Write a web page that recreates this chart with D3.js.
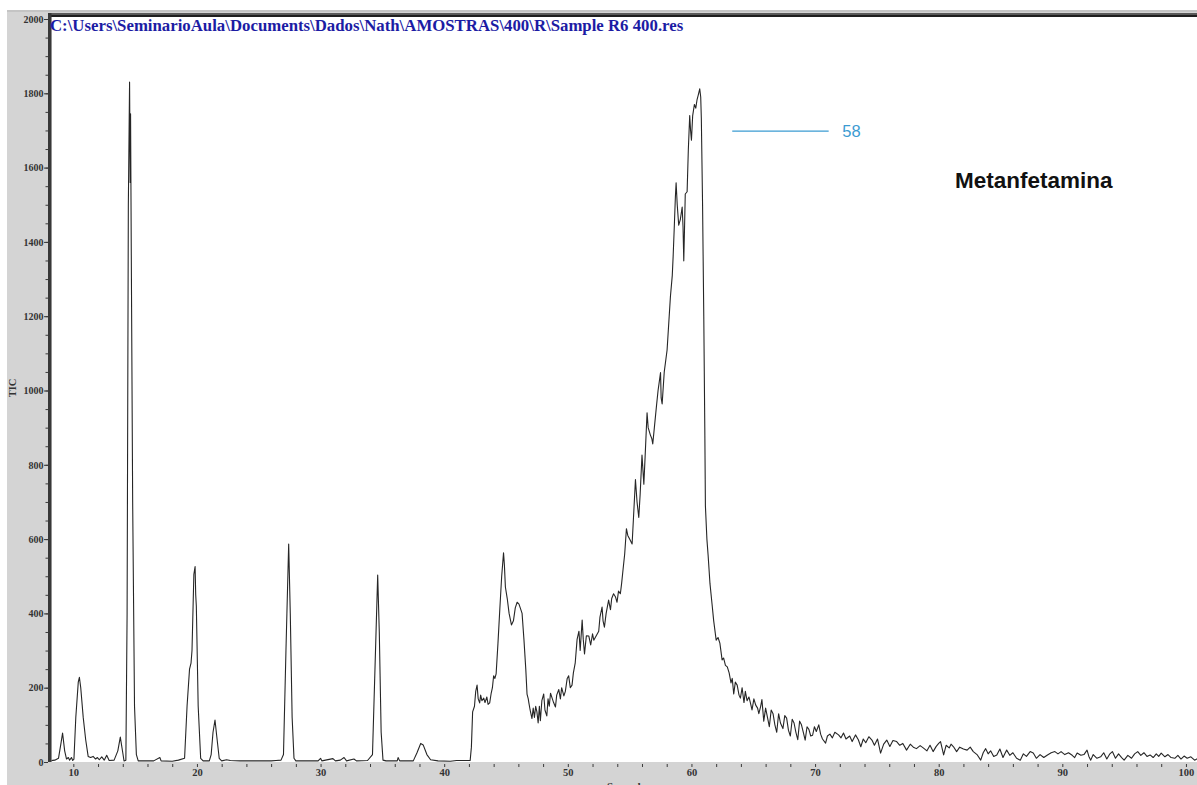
<!DOCTYPE html>
<html>
<head>
<meta charset="utf-8">
<script src="https://cdn.jsdelivr.net/npm/d3@7"></script>
<style>
  html, body { margin: 0; padding: 0; background: #fff; overflow: hidden; }
  svg { display: block; }
</style>
</head>
<body>
<svg id="chart" width="1197" height="785"></svg>
<script>
// Total ion chromatogram, sample R6 400 — [retention time (s), TIC] pairs.
const earlyPeaks = [
  [8.0,3],[8.5,5],[8.8,10],[9.0,50],[9.13,78],[9.3,30],[9.45,8],[9.6,12],[9.7,5],[9.85,12],
  [9.95,4],[10.05,8],[10.2,120],[10.4,215],[10.49,228],[10.6,200],[10.8,120],[11.0,60],[11.2,15],
  [11.4,12],[11.6,15],[11.8,8],[11.95,12],[12.1,6],[12.3,14],[12.5,5],[12.7,18],[12.9,4],
  [13.3,5],[13.6,30],[13.8,67],[14.0,25],[14.1,3],[14.25,5],[14.35,400],[14.45,1500],[14.55,1830],
  [14.6,1560],[14.63,1745],[14.7,1300],[14.8,700],[14.95,150],[15.1,20],[15.25,3],[16.5,3],
  [17.0,12],[17.1,3],[18.0,2],[18.5,5],[19.0,10],[19.2,150],[19.4,250],[19.52,266],[19.6,300],
  [19.75,505],[19.85,526],[19.9,450],[19.95,420],[20.1,150],[20.3,10],[20.5,3],[21.0,3],[21.15,20],
  [21.3,80],[21.46,113],[21.6,70],[21.8,10],[22.0,3],[22.4,6],[22.7,4],[23.5,3],[26.0,3],
  [26.4,4],[26.8,5],[27.0,20],[27.2,300],[27.42,587],[27.55,400],[27.7,120],[27.85,10],[28.0,3],
  [29.8,3],[30.0,10],[30.1,3],[31.0,9],[31.2,3],[31.6,5],[31.9,12],[32.1,3],[32.7,8],[32.9,3],
  [33.8,4],[34.2,20],[34.4,250],[34.62,503],[34.75,350],[34.9,80],[35.05,5],[35.3,3],[36.2,3],
  [36.27,12],[36.4,3],[37.5,3],[37.8,25],[38.1,50],[38.3,46],[38.6,20],[38.9,6],[39.5,3],
  [40.5,2],[41.0,4],[42.1,4]
];

const broadBand = [
  [42.2,40],[42.3,135],[42.45,150],[42.55,190],[42.66,207],[42.75,170],[42.87,159],[42.95,180],
  [43.05,165],[43.2,172],[43.3,160],[43.45,175],[43.55,155],[43.68,159],[43.8,185],[43.9,200],
  [44.0,232],[44.1,225],[44.2,237],[44.35,320],[44.5,412],[44.65,500],[44.8,563],[44.87,530],
  [44.95,471],[45.1,440],[45.25,400],[45.44,369],[45.6,380],[45.75,415],[45.9,430],[46.05,425],
  [46.2,410],[46.3,400],[46.45,330],[46.6,250],[46.7,183],[46.8,170],[46.85,159],[46.95,140],
  [47.1,117],[47.2,145],[47.3,120],[47.4,150],[47.5,135],[47.6,105],[47.7,150],[47.78,111],
  [47.9,165],[48.05,183],[48.15,140],[48.3,124],[48.4,170],[48.5,150],[48.6,185],[48.73,172],
  [48.85,160],[49.0,148],[49.1,180],[49.27,195],[49.4,170],[49.5,200],[49.68,178],[49.8,190],
  [49.95,225],[50.07,232],[50.2,200],[50.34,207],[50.45,240],[50.6,267],[50.75,330],[50.9,352],
  [51.0,300],[51.16,382],[51.25,330],[51.35,291],[51.5,340],[51.7,339],[51.85,315],[52.0,345],
  [52.1,328],[52.3,340],[52.5,352],[52.6,390],[52.77,417],[52.85,380],[52.96,363],[53.1,400],
  [53.3,436],[53.45,410],[53.55,440],[53.7,453],[53.85,445],[53.98,430],[54.1,460],[54.25,453],
  [54.35,480],[54.47,519],[54.6,560],[54.74,628],[54.85,610],[55.0,600],[55.2,587],[55.3,650],
  [55.47,760],[55.6,700],[55.74,658],[55.85,720],[56.0,826],[56.15,748],[56.25,820],[56.41,940],
  [56.5,900],[56.68,880],[56.8,870],[56.87,856],[57.0,900],[57.17,958],[57.3,1000],[57.5,1048],
  [57.55,980],[57.63,964],[57.8,1050],[58.03,1109],[58.2,1200],[58.3,1253],[58.45,1310],
  [58.52,1361],[58.6,1430],[58.7,1520],[58.76,1559],[58.85,1500],[58.97,1445],[59.1,1460],
  [59.25,1494],[59.32,1440],[59.38,1349],[59.45,1450],[59.5,1529],[59.65,1535],[59.75,1650],
  [59.86,1740],[59.93,1700],[60.0,1674],[60.1,1740],[60.24,1770],[60.35,1760],[60.45,1782],
  [60.55,1795],[60.67,1812],[60.75,1790],[60.8,1733],[60.9,1500],[61.0,1192],[61.08,900],
  [61.13,689],[61.25,600],[61.35,556],[61.5,480],[61.67,424],[61.8,380],[62.0,328],[62.15,335],
  [62.3,320],[62.48,275],[62.6,280],[62.75,260],[62.9,256],[63.05,240],[63.2,213],[63.3,225],
  [63.42,183],[63.55,215],[63.7,207],[63.85,180],[63.96,172],[64.1,200],[64.25,160],[64.36,190],
  [64.5,165],[64.65,175],[64.77,159],[64.9,140],[65.05,170],[65.2,153],[65.35,145],[65.45,130]
];

const tailBaseline = [
  [65.6,150],[65.7,168],[65.85,110],[66.0,145],[66.15,120],[66.3,95],[66.45,140],[66.6,130],
  [66.75,100],[66.9,80],[67.05,130],[67.2,105],[67.4,90],[67.55,125],[67.7,118],[67.85,85],
  [68.0,70],[68.15,115],[68.3,105],[68.45,80],[68.6,60],[68.75,110],[68.9,100],[69.05,80],
  [69.2,59],[69.35,95],[69.5,88],[69.65,70],[69.8,72],[69.95,95],[70.1,82],[70.3,100],[70.45,75],
  [70.6,62],[70.85,51],[71.0,70],[71.2,75],[71.4,65],[71.6,80],[71.9,73],[72.1,65],[72.3,78],
  [72.5,62],[72.8,70],[73.0,55],[73.27,73],[73.5,60],[73.7,41],[73.9,62],[74.1,52],[74.35,68],
  [74.6,59],[74.8,45],[75.05,62],[75.3,24],[75.55,48],[75.8,59],[76.05,42],[76.3,58],[76.6,55],
  [76.85,45],[77.1,50],[77.4,32],[77.7,48],[77.95,40],[78.2,36],[78.5,44],[78.75,38],[79.05,30],
  [79.3,45],[79.55,28],[79.8,42],[80.0,50],[80.15,55],[80.4,19],[80.6,45],[80.85,38],[81.0,48],
  [81.2,41],[81.45,28],[81.7,40],[82.0,35],[82.3,32],[82.55,40],[82.8,28],[83.1,20],[83.4,5],
  [83.6,25],[83.8,36],[84.0,22],[84.2,30],[84.45,15],[84.7,19],[84.95,35],[85.2,12],[85.5,32],
  [85.75,18],[86.0,25],[86.3,10],[86.6,5],[86.85,22],[87.1,15],[87.4,28],[87.65,24],[87.9,10],
  [88.2,20],[88.5,12],[88.8,19],[89.1,25],[89.4,28],[89.65,22],[89.9,28],[90.2,20],[90.5,25],
  [90.8,18],[91.0,12],[91.2,24],[91.5,18],[91.75,20],[92.0,32],[92.15,15],[92.3,5],[92.5,20],
  [92.8,10],[93.1,14],[93.35,25],[93.6,8],[93.85,22],[94.05,28],[94.3,10],[94.55,22],[94.8,12],
  [95.0,5],[95.3,18],[95.6,10],[95.85,22],[96.1,28],[96.35,18],[96.6,25],[96.85,15],[97.1,19],
  [97.35,12],[97.6,22],[97.8,15],[98.0,24],[98.3,14],[98.55,20],[98.8,12],[99.1,10],[99.35,18],
  [99.6,8],[99.85,16],[100.1,10],[100.4,14],[100.7,5],[101.0,10]
];

const xTickLabels = [10, 20, 30, 40, 50, 60, 70, 80, 90, 100];
const yTickLabels = [0, 200, 400, 600, 800, 1000, 1200, 1400, 1600, 1800, 2000];

const fileTitle = "C:\\Users\\SeminarioAula\\Documents\\Dados\\Nath\\AMOSTRAS\\400\\R\\Sample R6 400.res";
const peakNumber = "58";
const compoundName = "Metanfetamina";
const xAxisTitle = "Seconds";
const yAxisTitle = "TIC";

const chromatogram = earlyPeaks.concat(broadBand, tailBaseline);

const svg = d3.select("#chart");
const serif = "'Liberation Serif','DejaVu Serif',serif";
const sans = "'Liberation Sans',Arial,sans-serif";

const plot = { left: 51.5, top: 17, right: 1197, bottom: 762 };

const x = d3.scaleLinear().domain([8, 101]).range([48.6, 1198.3]);
const y = d3.scaleLinear().domain([0, 2000]).range([762, 19]);

// window frame
svg.append("rect").attr("x", 7).attr("y", 10).attr("width", 1190).attr("height", 775).attr("fill", "#d4d4d4");
svg.append("rect").attr("x", 7).attr("y", 10).attr("width", 1190).attr("height", 2).attr("fill", "#c4c4c4");

// white trace area
svg.append("rect")
  .attr("x", plot.left).attr("y", plot.top)
  .attr("width", plot.right - plot.left).attr("height", plot.bottom - plot.top)
  .attr("fill", "#ffffff");

// dark top and left borders
svg.append("rect").attr("x", 48).attr("y", 13).attr("width", 1149).attr("height", 2).attr("fill", "#5a5a5a");
svg.append("rect").attr("x", 48).attr("y", 15).attr("width", 1149).attr("height", 2).attr("fill", "#1e1e1e");
svg.append("rect").attr("x", 48).attr("y", 13).attr("width", 3.5).attr("height", plot.bottom - 13).attr("fill", "#383838");

// y axis: minor ticks every 50, labelled ticks every 200
const yMinor = svg.append("g").attr("transform", "translate(48,0)")
  .call(d3.axisLeft(y).tickValues(d3.range(0, 2001, 50)).tickSize(2.5).tickFormat(""));
const yMajor = svg.append("g").attr("transform", "translate(48,0)")
  .call(d3.axisLeft(y).tickValues(yTickLabels).tickSize(4).tickPadding(0.5).tickFormat(d3.format("d")));
[yMinor, yMajor].forEach(g => {
  g.select(".domain").remove();
  g.selectAll("line").attr("stroke", "#3a3a3a");
});
yMajor.selectAll("text")
  .attr("font-family", serif).attr("font-weight", "bold").attr("font-size", 10).attr("fill", "#333");

// x axis: ticks every 2 s, labelled every 10 s
const xAxisG = svg.append("g").attr("transform", "translate(0,764)")
  .call(d3.axisBottom(x).tickValues(d3.range(10, 101, 2)).tickSize(3).tickPadding(2)
    .tickFormat(d => xTickLabels.includes(d) ? d : ""));
xAxisG.select(".domain").remove();
xAxisG.selectAll("line").attr("stroke", "#3a3a3a");
xAxisG.selectAll("text")
  .attr("font-family", serif).attr("font-weight", "bold").attr("font-size", 10.5).attr("fill", "#333");

// axis titles
svg.append("text")
  .attr("transform", "translate(16,388) rotate(-90)")
  .attr("text-anchor", "middle")
  .attr("font-family", serif).attr("font-weight", "bold").attr("font-size", 10.5).attr("fill", "#333")
  .text(yAxisTitle);
svg.append("text")
  .attr("x", 626).attr("y", 790)
  .attr("text-anchor", "middle")
  .attr("font-family", serif).attr("font-weight", "bold").attr("font-size", 11).attr("fill", "#333")
  .text(xAxisTitle);

// chromatogram trace
svg.append("clipPath").attr("id", "plotClip")
  .append("rect")
  .attr("x", plot.left).attr("y", plot.top)
  .attr("width", plot.right - plot.left).attr("height", plot.bottom - plot.top + 1);

const line = d3.line().x(d => x(d[0])).y(d => y(d[1]));
svg.append("path")
  .datum(chromatogram)
  .attr("clip-path", "url(#plotClip)")
  .attr("fill", "none")
  .attr("stroke", "#262626")
  .attr("stroke-width", 1.1)
  .attr("stroke-linejoin", "round")
  .attr("d", line);

// file title
svg.append("text")
  .attr("x", 50).attr("y", 31)
  .attr("font-family", serif).attr("font-weight", "bold").attr("font-size", 16.8)
  .attr("fill", "#1c1ca4")
  .text(fileTitle);

// peak annotation
const annotLevel = 1698;
svg.append("line")
  .attr("x1", x(63.3)).attr("x2", x(71.1))
  .attr("y1", y(annotLevel)).attr("y2", y(annotLevel))
  .attr("stroke", "#3b9bd2").attr("stroke-width", 1.2);
svg.append("text")
  .attr("x", x(72.2)).attr("y", y(annotLevel) + 6)
  .attr("font-family", sans).attr("font-size", 16.5).attr("fill", "#3b9bd2")
  .text(peakNumber);

svg.append("text")
  .attr("x", 955).attr("y", 188)
  .attr("font-family", sans).attr("font-weight", "bold").attr("font-size", 22.5).attr("fill", "#111")
  .text(compoundName);
</script>
</body>
</html>
